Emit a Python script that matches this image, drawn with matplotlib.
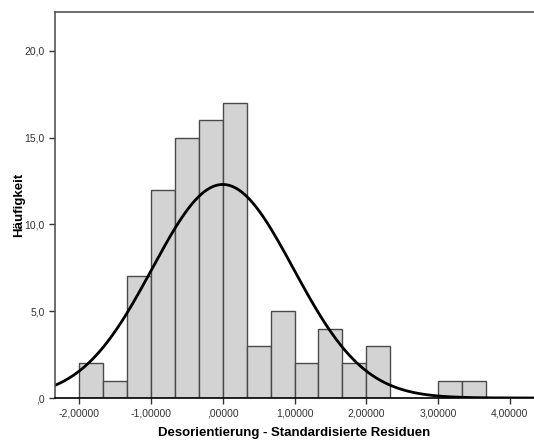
import matplotlib.pyplot as plt
import numpy as np

plt.rcParams['font.family'] = ['Liberation Sans', 'DejaVu Sans']

# histogram bins (width 1/3) and counts
bin_edges = np.arange(-2.0, 3.6667 + 0.001, 1 / 3)
counts = [2, 1, 7, 12, 15, 16, 17, 3, 5, 2, 4, 2, 3, 0, 0, 1, 1]
n_total = 91
mean = 0.0
sd = 0.984

x_ticks = [-2, -1, 0, 1, 2, 3, 4]
x_labels = ['-2,00000', '-1,00000', ',00000', '1,00000', '2,00000', '3,00000', '4,00000']
y_ticks = [0, 5, 10, 15, 20]
y_labels = [',0', '5,0', '10,0', '15,0', '20,0']

fig = plt.figure(figsize=(5.34, 4.41), dpi=100)
ax = fig.add_axes([0.103, 0.0975, 0.897, 0.876])

lefts = bin_edges[:-1]
widths = np.diff(bin_edges)
for l, w, c in zip(lefts, widths, counts):
    if c > 0:
        ax.bar(l, c, width=w, align='edge', color='#d3d3d3', edgecolor='#4a4a4a', linewidth=1.0)

xs = np.linspace(-2.4, 4.4, 500)
bw = 1 / 3
ys = n_total * bw / (sd * np.sqrt(2 * np.pi)) * np.exp(-(xs - mean) ** 2 / (2 * sd ** 2))
ax.plot(xs, ys, color='black', linewidth=2.0)

ax.set_xlim(-2.34, 4.34)
ax.set_ylim(0, 22.25)
ax.set_xticks(x_ticks)
ax.set_xticklabels(x_labels, fontsize=7.5, color='#333333')
ax.set_yticks(y_ticks)
ax.set_yticklabels(y_labels, fontsize=7.5, color='#333333')
ax.tick_params(axis='both', direction='out', length=4, width=1, colors='#333333', labelcolor='#333333')

for side in ['left', 'top']:
    ax.spines[side].set_color('#555555')
    ax.spines[side].set_linewidth(1.2)
ax.spines['bottom'].set_color('black')
ax.spines['bottom'].set_linewidth(1.2)
ax.spines['right'].set_visible(False)

ax.set_xlabel('Desorientierung - Standardisierte Residuen', fontsize=9.5, fontweight='bold', labelpad=6)
ax.set_ylabel('Häufigkeit', fontsize=9.5, fontweight='bold')
ax.yaxis.set_label_coords(-0.063, 0.5)

fig.savefig('out.png', dpi=100)
